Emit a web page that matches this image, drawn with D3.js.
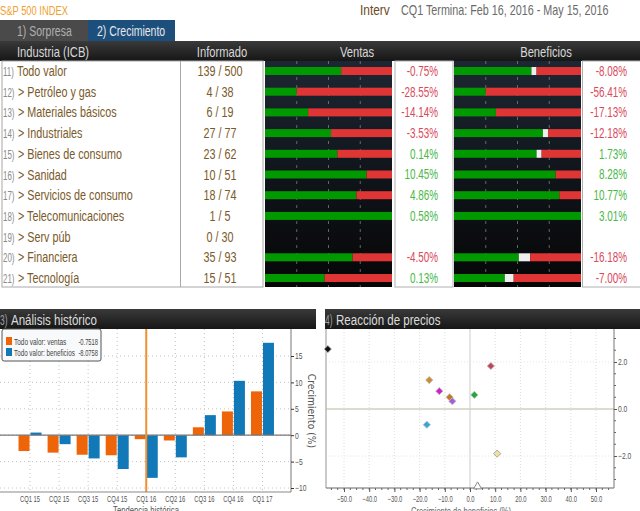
<!DOCTYPE html>
<html>
<head>
<meta charset="utf-8">
<script src="https://cdn.jsdelivr.net/npm/d3@7"></script>
<style>
body { margin: 0; background: #fff; overflow: hidden; }
text { font-family: "Liberation Sans", sans-serif; }
</style>
</head>
<body>
<script>
var width = 640;
var height = 511;

var industries = ['Todo valor', '> Petróleo y gas', '> Materiales básicos', '> Industriales', '> Bienes de consumo',
    '> Sanidad', '> Servicios de consumo', '> Telecomunicaciones', '> Serv púb', '> Financiera', '> Tecnología'];
var rowIds = ['11)', '12)', '13)', '14)', '15)', '16)', '17)', '18)', '19)', '20)', '21)'];
var reported = ['139 / 500', '4 / 38', '6 / 19', '27 / 77', '23 / 62', '10 / 51', '18 / 74', '1 / 5', '0 / 30', '35 / 93', '15 / 51'];

// share of companies: above / in line (rest is below)
var salesBeat = [60, 25, 34, 52, 57, 80, 72, 100, 0, 69, 47];
var salesInline = [0, 0, 0, 0, 0, 0, 0, 0, 0, 0, 0];
var salesGrowth = ['-0.75%', '-28.55%', '-14.14%', '-3.53%', '0.14%', '10.45%', '4.86%', '0.58%', '', '-4.50%', '0.13%'];
var profitBeat = [61, 25, 33, 70, 65, 80, 83, 100, 0, 51, 40];
var profitInline = [4, 0, 0, 4, 4, 0, 0, 0, 0, 9, 7];
var profitGrowth = ['-8.08%', '-56.41%', '-17.13%', '-12.18%', '1.73%', '8.28%', '10.77%', '3.01%', '', '-16.18%', '-7.00%'];

var quarters = ['CQ1 15', 'CQ2 15', 'CQ3 15', 'CQ4 15', 'CQ1 16', 'CQ2 16', 'CQ3 16', 'CQ4 16', 'CQ1 17'];
var histSales = [-3.0, -3.3, -3.7, -3.8, -0.75, -1.0, 1.5, 4.5, 8.3];
var histProfit = [0.5, -1.7, -4.4, -6.4, -8.08, -4.2, 3.8, 10.3, 17.5];
var histTicks = [-10, -5, 0, 5, 10, 15];

var reactX = [-56.41, 8.28, -16.18, -12.18, -8.08, -7.0, 1.73, -17.13, 10.77];
var reactY = [2.55, 1.83, 1.23, 0.76, 0.5, 0.33, 0.6, -0.67, -1.9];
var reactColors = ['#111111', '#c0455a', '#d08a30', '#d020c8', '#c87820', '#a060d8', '#20a838', '#30a8d8', '#f0e0a0'];
var triangleX = [3.01];
var triangleY = [-3.3];
var reactTicksX = [-50, -40, -30, -20, -10, 0, 10, 20, 30, 40, 50];
var reactTicksY = [-2, 0, 2];

var GREEN = '#009900';
var RED = '#e03535';
var BROWN = '#7a5a2a';

var svg = d3.select('body').append('svg')
    .attr('width', width)
    .attr('height', height)
    .style('display', 'block');

var defs = svg.append('defs');
var grad = defs.append('linearGradient').attr('id', 'hdr').attr('x1', 0).attr('x2', 0).attr('y1', 0).attr('y2', 1);
grad.append('stop').attr('offset', '0%').attr('stop-color', '#3a3a3a');
grad.append('stop').attr('offset', '100%').attr('stop-color', '#161616');
var panelGrad = defs.append('linearGradient').attr('id', 'panel').attr('x1', 0).attr('x2', 0).attr('y1', 0).attr('y2', 1);
panelGrad.append('stop').attr('offset', '0%').attr('stop-color', '#1d2733');
panelGrad.append('stop').attr('offset', '50%').attr('stop-color', '#10151b');
panelGrad.append('stop').attr('offset', '100%').attr('stop-color', '#060606');

// the reference text is very narrow, no narrow font here so squeeze it
function squeeze(sel, k) {
    sel.attr('transform', function () {
        var x = +this.getAttribute('x') || 0;
        return 'translate(' + (x * (1 - k)) + ',0) scale(' + k + ',1)';
    });
    return sel;
}

function label(x, y, str, size, color, anchor, k) {
    var t = svg.append('text')
        .attr('x', x)
        .attr('y', y)
        .attr('font-size', size)
        .attr('fill', color)
        .attr('text-anchor', anchor || 'start')
        .text(str);
    return squeeze(t, k || 0.75);
}

// top strip
label(0, 15, 'S&P 500 INDEX', 13, '#f0a030', 'start', 0.72);
label(360, 15, 'Interv', 14, '#6b4a1a', 'start', 0.85);
label(401, 15, 'CQ1 Termina: Feb 16, 2016 - May 15, 2016', 14, '#6a6a6a', 'start', 0.77);

// tabs
svg.append('rect').attr('x', 0).attr('y', 20).attr('width', 88).attr('height', 21).attr('fill', '#4a4a4a');
svg.append('rect').attr('x', 88).attr('y', 20).attr('width', 87).attr('height', 21).attr('fill', '#1c4f7c');
label(17, 36, '1) Sorpresa', 14, '#b0b0b0');
label(97, 36, '2) Crecimiento', 14, '#e8e8e8');

// table header
svg.append('rect').attr('x', 0).attr('y', 41).attr('width', width).attr('height', 20).attr('fill', 'url(#hdr)');
label(17, 57, 'Industria (ICB)', 14, '#d8d8d8', 'start', 0.8);
label(222, 57, 'Informado', 14, '#d8d8d8', 'middle', 0.8);
label(357, 57, 'Ventas', 14, '#d8d8d8', 'middle', 0.8);
label(546, 57, 'Beneficios', 14, '#d8d8d8', 'middle', 0.8);

var rowScale = d3.scalePoint()
    .domain(d3.range(industries.length))
    .range([71, 278]);

// left table
svg.append('rect').attr('x', 2).attr('y', 61).attr('width', 261).attr('height', 226)
    .attr('fill', '#fff').attr('stroke', '#a8a8a8');
svg.append('line').attr('x1', 180.5).attr('x2', 180.5).attr('y1', 61).attr('y2', 287).attr('stroke', '#a8a8a8');

var rows = svg.selectAll('.row')
    .data(industries)
    .enter()
    .append('g')
    .attr('class', 'row')
    .attr('transform', function (d, i) { return 'translate(0,' + (rowScale(i) + 5) + ')'; });

rows.append('text')
    .attr('x', 3)
    .attr('font-size', 12)
    .attr('fill', '#8a8a8a')
    .text(function (d, i) { return rowIds[i]; })
    .call(squeeze, 0.66);

rows.append('text')
    .attr('x', function (d, i) { return i === 0 ? 17 : 18; })
    .attr('font-size', 15)
    .attr('fill', BROWN)
    .text(function (d) { return d; })
    .call(squeeze, 0.72);

rows.append('text')
    .attr('x', 220)
    .attr('font-size', 15)
    .attr('fill', BROWN)
    .attr('text-anchor', 'middle')
    .text(function (d, i) { return reported[i]; })
    .call(squeeze, 0.72);

function drawPanel(x0, x1, beat, inline, growth, boxX, boxW, textX) {
    var share = d3.scaleLinear().domain([0, 100]).range([x0, x1]);

    svg.append('rect').attr('x', x0).attr('y', 61).attr('width', x1 - x0).attr('height', 226).attr('fill', 'url(#panel)');

    [25, 50, 75].forEach(function (t) {
        svg.append('line')
            .attr('x1', share(t)).attr('x2', share(t))
            .attr('y1', 61).attr('y2', 287)
            .attr('stroke', '#8a8a8a').attr('stroke-width', 0.7).attr('stroke-dasharray', '3,5');
    });

    var g = svg.append('g');
    beat.forEach(function (b, i) {
        if (b === 0) return;
        var y = rowScale(i) - 4;
        var inl = inline[i];
        g.append('rect').attr('x', share(0)).attr('y', y).attr('width', share(b) - share(0)).attr('height', 8).attr('fill', GREEN);
        if (inl > 0) {
            g.append('rect').attr('x', share(b)).attr('y', y).attr('width', share(b + inl) - share(b)).attr('height', 8).attr('fill', '#eeeeee');
        }
        if (b + inl < 100) {
            g.append('rect').attr('x', share(b + inl)).attr('y', y).attr('width', share(100) - share(b + inl)).attr('height', 8).attr('fill', RED);
        }
    });

    svg.append('rect').attr('x', boxX).attr('y', 61).attr('width', boxW).attr('height', 226)
        .attr('fill', '#fff').attr('stroke', '#b0b0b0');

    growth.forEach(function (s, i) {
        if (s === '') return;
        label(textX, rowScale(i) + 5, s, 15, s.charAt(0) === '-' ? '#d84a5a' : '#48b848', 'end', 0.66);
    });
}

drawPanel(265, 392, salesBeat, salesInline, salesGrowth, 395, 58, 438);
drawPanel(454, 581, profitBeat, profitInline, profitGrowth, 582.5, 60, 627);

// history chart
svg.append('rect').attr('x', 0).attr('y', 309).attr('width', 316).attr('height', 20).attr('fill', 'url(#hdr)');
label(0, 325, '3)', 14, '#a0a0a0', 'start', 0.6);
label(11, 325, 'Análisis histórico', 15, '#dcdcdc', 'start', 0.77);

var histX = d3.scaleBand().domain(quarters).range([15.5, 277]).padding(0);
var histY = d3.scaleLinear().domain([-10, 15]).range([488, 356]);

var histGrid = svg.append('g');
histTicks.forEach(function (t) {
    histGrid.append('line')
        .attr('x1', 0).attr('x2', 291)
        .attr('y1', histY(t)).attr('y2', histY(t))
        .attr('stroke', '#c4c4c4').attr('stroke-dasharray', '1,3');
});
quarters.forEach(function (q) {
    histGrid.append('line')
        .attr('x1', histX(q) + histX.bandwidth() / 2).attr('x2', histX(q) + histX.bandwidth() / 2)
        .attr('y1', 329).attr('y2', 492)
        .attr('stroke', '#c4c4c4').attr('stroke-dasharray', '1,3');
});

var barW = 11;
svg.selectAll('.salesBar')
    .data(histSales)
    .enter()
    .append('rect')
    .attr('class', 'salesBar')
    .attr('x', function (d, i) { return histX(quarters[i]) + histX.bandwidth() / 2 - barW - 0.5; })
    .attr('y', function (d) { return histY(Math.max(d, 0)); })
    .attr('width', barW)
    .attr('height', function (d) { return Math.abs(histY(d) - histY(0)); })
    .attr('fill', '#ee6408');

svg.selectAll('.profitBar')
    .data(histProfit)
    .enter()
    .append('rect')
    .attr('class', 'profitBar')
    .attr('x', function (d, i) { return histX(quarters[i]) + histX.bandwidth() / 2 + 0.5; })
    .attr('y', function (d) { return histY(Math.max(d, 0)); })
    .attr('width', barW)
    .attr('height', function (d) { return Math.abs(histY(d) - histY(0)); })
    .attr('fill', '#1279b8');

svg.append('line')
    .attr('x1', 0).attr('x2', 291)
    .attr('y1', histY(0)).attr('y2', histY(0))
    .attr('stroke', '#777').attr('stroke-width', 1.2);

svg.append('line')
    .attr('x1', histX('CQ1 16') + histX.bandwidth() / 2).attr('x2', histX('CQ1 16') + histX.bandwidth() / 2)
    .attr('y1', 329).attr('y2', 492)
    .attr('stroke', '#f09030').attr('stroke-width', 2);

var histAxisY = svg.append('g')
    .attr('transform', 'translate(291,0)')
    .call(d3.axisRight(histY).tickValues(histTicks).tickSize(3));
histAxisY.selectAll('text').attr('font-size', 9).attr('fill', '#555').attr('x', 4).call(squeeze, 0.75);
histAxisY.select('.domain').attr('d', 'M0,329V492').attr('stroke', '#777');
histAxisY.selectAll('line').attr('stroke', '#333');

svg.append('line').attr('x1', 0).attr('x2', 291).attr('y1', 492).attr('y2', 492).attr('stroke', '#888');

svg.selectAll('.qLabel')
    .data(quarters)
    .enter()
    .append('text')
    .attr('class', 'qLabel')
    .attr('x', function (d) { return histX(d) + histX.bandwidth() / 2; })
    .attr('y', 502)
    .attr('text-anchor', 'middle')
    .attr('font-size', 9)
    .attr('fill', '#555')
    .text(function (d) { return d; })
    .call(squeeze, 0.65);

label(146, 514, 'Tendencia histórica', 11, '#555', 'middle', 0.7);

svg.append('text')
    .attr('transform', 'translate(308,411) rotate(90) scale(0.92,1)')
    .attr('text-anchor', 'middle')
    .attr('font-size', 10)
    .attr('fill', '#555')
    .style('font-family', '"DejaVu Sans"')
    .text('Crecimiento (%)');

// legend
svg.append('rect').attr('x', 2).attr('y', 329).attr('width', 99).attr('height', 32).attr('rx', 2)
    .attr('fill', '#f8f9fa').attr('stroke', '#555');
svg.append('rect').attr('x', 6).attr('y', 337).attr('width', 6).attr('height', 8).attr('fill', '#ee6408');
svg.append('rect').attr('x', 6).attr('y', 348).attr('width', 6).attr('height', 8).attr('fill', '#1279b8');
label(14, 345, 'Todo valor: ventas', 8.5, '#444', 'start', 0.76);
label(14, 356, 'Todo valor: beneficios', 8.5, '#444', 'start', 0.74);
label(98, 345, '-0.7518', 8.5, '#444', 'end', 0.68);
label(98, 356, '-8.0758', 8.5, '#444', 'end', 0.68);

// price reaction chart
svg.append('rect').attr('x', 325).attr('y', 309).attr('width', 315).attr('height', 20).attr('fill', 'url(#hdr)');
label(325, 325, '4)', 14, '#a0a0a0', 'start', 0.6);
label(336, 325, 'Reacción de precios', 15, '#dcdcdc', 'start', 0.77);

var reactScaleX = d3.scaleLinear().domain([-50, 50]).range([344, 596]);
var reactScaleY = d3.scaleLinear().domain([-2, 2]).range([456, 362]);

reactTicksX.forEach(function (t) {
    svg.append('line')
        .attr('x1', reactScaleX(t)).attr('x2', reactScaleX(t))
        .attr('y1', 329).attr('y2', 488)
        .attr('stroke', t === 0 ? '#dcdcdc' : '#dedede')
        .attr('stroke-width', t === 0 ? 1.5 : 1)
        .attr('stroke-dasharray', t === 0 ? null : '1,2');
});
reactTicksY.forEach(function (t) {
    svg.append('line')
        .attr('x1', 326).attr('x2', 614)
        .attr('y1', reactScaleY(t)).attr('y2', reactScaleY(t))
        .attr('stroke', t === 0 ? '#cfcfc0' : '#e4e4e4')
        .attr('stroke-width', t === 0 ? 1.5 : 1)
        .attr('stroke-dasharray', t === 0 ? null : '1,2');
});

svg.append('line').attr('x1', 326).attr('x2', 326).attr('y1', 329).attr('y2', 488).attr('stroke', '#b8b8b8').attr('stroke-width', 1.5);

var reactAxisX = svg.append('g')
    .attr('transform', 'translate(0,488)')
    .call(d3.axisBottom(reactScaleX).tickValues(reactTicksX).tickSize(4).tickFormat(d3.format('.1f')));
reactAxisX.selectAll('text').attr('font-size', 9).attr('fill', '#555').attr('y', 8).call(squeeze, 0.65);
reactAxisX.select('.domain').attr('d', 'M326,0H614').attr('stroke', '#666');
reactAxisX.selectAll('line').attr('stroke', '#555');

var minorX = d3.range(-55, 57.5, 2.5);
svg.selectAll('.minorX')
    .data(minorX)
    .enter()
    .append('line')
    .attr('class', 'minorX')
    .attr('x1', function (d) { return reactScaleX(d); })
    .attr('x2', function (d) { return reactScaleX(d); })
    .attr('y1', 488).attr('y2', 490)
    .attr('stroke', '#666');

var reactAxisY = svg.append('g')
    .attr('transform', 'translate(614,0)')
    .call(d3.axisRight(reactScaleY).tickValues(reactTicksY).tickSize(3).tickFormat(d3.format('.1f')));
reactAxisY.selectAll('text').attr('font-size', 9).attr('fill', '#555').attr('x', 4).call(squeeze, 0.75);
reactAxisY.select('.domain').attr('d', 'M0,329V488').attr('stroke', '#777');
reactAxisY.selectAll('line').attr('stroke', '#555');

var minorY = [-3, -2.5, -1.5, -1, -0.5, 0.5, 1, 1.5, 2.5, 3];
svg.selectAll('.minorY')
    .data(minorY)
    .enter()
    .append('line')
    .attr('class', 'minorY')
    .attr('x1', 614).attr('x2', 616)
    .attr('y1', function (d) { return reactScaleY(d); })
    .attr('y2', function (d) { return reactScaleY(d); })
    .attr('stroke', '#666');

svg.selectAll('.point')
    .data(reactX)
    .enter()
    .append('path')
    .attr('class', 'point')
    .attr('transform', function (d, i) {
        return 'translate(' + Math.max(reactScaleX(d), 327) + ',' + reactScaleY(reactY[i]) + ') rotate(45)';
    })
    .attr('d', d3.symbol().type(d3.symbolSquare).size(26))
    .attr('fill', function (d, i) { return reactColors[i]; })
    .attr('stroke', function (d, i) { return i === 8 ? '#999' : '#bbb'; })
    .attr('stroke-width', 0.8)
    .attr('stroke-linejoin', 'round');

svg.selectAll('.tri')
    .data(triangleX)
    .enter()
    .append('path')
    .attr('class', 'tri')
    .attr('transform', function (d, i) { return 'translate(' + reactScaleX(d) + ',' + reactScaleY(triangleY[i]) + ')'; })
    .attr('d', d3.symbol().type(d3.symbolTriangle).size(28))
    .attr('fill', '#fff')
    .attr('stroke', '#888');

label(461, 515, 'Crecimiento de beneficios (%)', 10, '#666', 'middle', 0.75);
</script>
</body>
</html>
